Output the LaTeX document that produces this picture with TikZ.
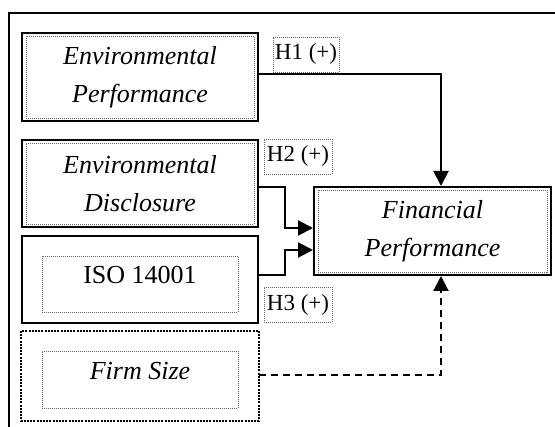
\documentclass[tikz,border=0pt]{standalone}
\usepackage{fontspec}
\setmainfont{Liberation Serif}
\usetikzlibrary{arrows.meta,calc}
\begin{document}
\begin{tikzpicture}[x=1pt,y=-1pt,
  font=\fontsize{26}{38}\selectfont,
  outerbox/.style={draw,line width=2pt,minimum width=236pt,minimum height=88pt,inner sep=0pt,align=center},
  dotbox/.style={draw=black!60,line width=0.8pt,dash pattern=on 1pt off 1pt,inner sep=0pt},
  hlabel/.style={draw=black!60,line width=0.8pt,dash pattern=on 1pt off 1pt,inner xsep=1pt,inner ysep=0pt,minimum height=35pt,text depth=5pt,font=\fontsize{23}{26}\selectfont},
  conn/.style={line width=2pt},
  tip/.style={-{Triangle[length=15pt,width=15pt]}}
]
\useasboundingbox (0,0) rectangle (555,427);
\clip (0,0) rectangle (555,427);
\draw[line width=2pt] (9,13) rectangle (620,470);

% left boxes
\node[outerbox] (ep) at (140,77) {};
\node[dotbox,minimum width=228pt,minimum height=82pt,align=center] (epi) at (140,77) {\textit{Environmental}\\\textit{Performance}};

\node[outerbox,minimum height=87pt] (ed) at (140,183.5) {};
\node[dotbox,minimum width=228pt,minimum height=81pt,align=center] (edi) at (140,183.5) {\textit{Environmental}\\\textit{Disclosure}};

\node[outerbox,minimum height=87pt,text depth=10pt] (iso) at (140,279.5) {ISO 14001};
\node[dotbox,minimum width=196pt,minimum height=56pt] (isoi) at (140,284) {};

\node[outerbox,draw=none] (fs) at (140,376) {};
\draw[line width=2pt,dash pattern=on 2pt off 1.2pt] (fs.north west) rectangle (fs.south east);
\node[dotbox,minimum width=196pt,minimum height=57pt] (fsi) at (140,379.5) {};
\node[text depth=10pt,inner sep=0pt] (fst) at (140,376) {\textit{Firm Size}};

% financial performance
\node[outerbox,minimum width=237pt] (fp) at (432.5,231) {};
\node[dotbox,minimum width=229pt,minimum height=82pt,align=center] (fpi) at (432.5,231) {\textit{Financial}\\\textit{Performance}};

% hypothesis labels
\node[hlabel,minimum width=66pt] (h1) at (306,54.5) {H1 (+)};
\node[hlabel,minimum width=68pt] (h2) at (298,156.5) {H2 (+)};
\node[hlabel,minimum width=68pt] (h3) at (298,305) {H3 (+)};

% connectors
\coordinate (fptop) at ($(fp.north)+(8.5,0)$);
\coordinate (fpbot) at ($(fp.south)+(8.5,0)$);
\draw[conn,tip] ($(ep.east)+(0,-3)$) -| (fptop);
\draw[conn,tip] ($(ed.east)+(0,3.5)$) -- (285,187) |- ($(fp.west)+(0,-3)$);
\draw[conn,tip] ($(iso.east)+(0,-4.5)$) -- (285,275) |- ($(fp.west)+(0,19)$);
\draw[conn,tip,dash pattern=on 7pt off 5pt] ($(fs.east)+(0,-1)$) -| (fpbot);
\end{tikzpicture}
\end{document}
